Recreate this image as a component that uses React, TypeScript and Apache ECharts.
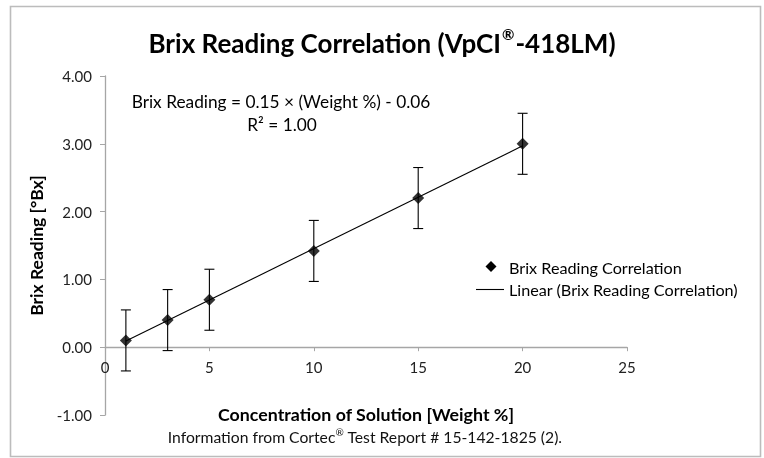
import React, { useEffect, useRef } from "react";
import * as echarts from "echarts";

const weightPct = [1, 3, 5, 10, 15, 20];
const brixValues = [0.1, 0.4, 0.7, 1.42, 2.2, 3.0];
const errorPlusMinus = [0.45, 0.45, 0.45, 0.45, 0.45, 0.45];
const trendX = [1, 20];
const trendY = [0.09, 2.97];
const xTicks = [0, 5, 10, 15, 20, 25];
const yTicks = [-1, 0, 1, 2, 3, 4];
const legendNames = ["Brix Reading Correlation", "Linear (Brix Reading Correlation)"];

const FONT = "Lato, 'Open Sans', sans-serif";

const GRID = { left: 105, right: 137, top: 76, bottom: 43 };
const H = 458;

export default function App() {
  const ref = useRef<HTMLDivElement>(null);
  useEffect(() => {
    if (!ref.current) return;
    const chart = echarts.init(ref.current, undefined, { renderer: "svg" });
    const points = weightPct.map((x, i) => [x, brixValues[i]]);
    const errData = weightPct.map((x, i) => [x, brixValues[i] - errorPlusMinus[i], brixValues[i] + errorPlusMinus[i]]);
    const trend = trendX.map((x, i) => [x, trendY[i]]);
    const yMin = yTicks[0];
    const yMax = yTicks[yTicks.length - 1];
    const plotH = H - GRID.top - GRID.bottom;
    const xOffset = -((0 - yMin) / (yMax - yMin)) * plotH;
    chart.setOption({
      animation: false,
      textStyle: { fontFamily: FONT },
      title: {
        text: "{a|Brix Reading Correlation (VpCI}{b|®}{a|-418LM)}",
        left: "center",
        top: 21,
        textStyle: {
          fontFamily: FONT,
          fontSize: 26,
          fontWeight: "bold",
          color: "#000",
          rich: {
            a: { fontFamily: FONT, fontSize: 26, fontWeight: "bold", color: "#000", lineHeight: 30, verticalAlign: "bottom" },
            b: { fontFamily: FONT, fontSize: 15, fontWeight: "bold", color: "#000", lineHeight: 30, verticalAlign: "top", padding: [0, 1, 12, 1] },
          },
        },
      },
      grid: { ...GRID, containLabel: false },
      xAxis: {
        type: "value",
        min: xTicks[0],
        max: xTicks[xTicks.length - 1],
        interval: 5,
        offset: xOffset,
        axisLine: { onZero: false, lineStyle: { color: "#a6a6a6", width: 1.3 } },
        axisTick: { show: true, length: 4, lineStyle: { color: "#a6a6a6" } },
        axisLabel: { color: "#222", fontSize: 15, fontFamily: FONT, margin: 12 },
        splitLine: { show: false },
      },
      yAxis: {
        type: "value",
        min: yMin,
        max: yMax,
        interval: 1,
        name: "Brix Reading [°Bx]",
        nameLocation: "middle",
        nameGap: 53,
        nameTextStyle: { fontFamily: FONT, fontSize: 17.5, fontWeight: "bold", color: "#000" },
        axisLine: { show: true, lineStyle: { color: "#a6a6a6", width: 1.3 } },
        axisTick: { show: true, length: 5, lineStyle: { color: "#a6a6a6" } },
        axisLabel: { color: "#222", fontSize: 15, fontFamily: FONT, margin: 13, formatter: (v: number) => v.toFixed(2) },
        splitLine: { show: false },
      },
      graphic: [
        {
          type: "rect",
          shape: { x: 10.5, y: 6.5, width: 750, height: 450 },
          style: { fill: "none", stroke: "#bcbcbc", lineWidth: 1.6 },
          silent: true,
        },
        {
          type: "text",
          x: 281,
          y: 101,
          style: { text: "Brix Reading = 0.15 × (Weight %) - 0.06", font: `17.3px ${FONT}`, fill: "#000", align: "center", verticalAlign: "middle" },
        },
        {
          type: "text",
          x: 282,
          y: 124,
          style: { text: "R² = 1.00", font: `17.3px ${FONT}`, fill: "#000", align: "center", verticalAlign: "middle" },
        },
        {
          type: "polygon",
          shape: { points: [[491, 261], [496.5, 266.5], [491, 272], [485.5, 266.5]] },
          style: { fill: "#000" },
        },
        {
          type: "line",
          shape: { x1: 476, y1: 289.5, x2: 504, y2: 289.5 },
          style: { stroke: "#000", lineWidth: 1.1 },
        },
        {
          type: "text",
          x: 509,
          y: 267,
          style: { text: legendNames[0], font: `16.2px ${FONT}`, fill: "#000", verticalAlign: "middle" },
        },
        {
          type: "text",
          x: 509,
          y: 289,
          style: { text: legendNames[1], font: `16.2px ${FONT}`, fill: "#000", verticalAlign: "middle" },
        },
        {
          type: "text",
          x: 366,
          y: 414,
          style: { text: "Concentration of Solution [Weight %]", font: `bold 17.8px ${FONT}`, fill: "#000", align: "center", verticalAlign: "middle" },
        },
        {
          type: "text",
          x: 365,
          y: 436,
          style: {
            text: "{a|Information from Cortec}{b|®}{a| Test Report # 15-142-1825 (2).}",
            fill: "#111",
            align: "center",
            verticalAlign: "middle",
            rich: {
              a: { fontFamily: FONT, fontSize: 15.7, fill: "#111", lineHeight: 18, verticalAlign: "bottom" },
              b: { fontFamily: FONT, fontSize: 10, fill: "#111", lineHeight: 18, verticalAlign: "top", padding: [0, 0, 6, 0] },
            },
          },
        },
      ],
      series: [
        {
          name: "Error bars",
          type: "custom",
          data: errData,
          z: 2,
          renderItem: (params: any, api: any) => {
            const x = api.value(0);
            const lo = api.coord([x, api.value(1)]);
            const hi = api.coord([x, api.value(2)]);
            const hw = 5;
            const st = { stroke: "#000", lineWidth: 1.1 };
            return {
              type: "group",
              children: [
                { type: "line", shape: { x1: lo[0], y1: lo[1], x2: hi[0], y2: hi[1] }, style: st },
                { type: "line", shape: { x1: lo[0] - hw, y1: lo[1], x2: lo[0] + hw, y2: lo[1] }, style: st },
                { type: "line", shape: { x1: hi[0] - hw, y1: hi[1], x2: hi[0] + hw, y2: hi[1] }, style: st },
              ],
            };
          },
        },
        {
          name: legendNames[1],
          type: "line",
          data: trend,
          symbol: "none",
          lineStyle: { color: "#000", width: 1.1 },
          itemStyle: { color: "#000" },
          z: 3,
        },
        {
          name: legendNames[0],
          type: "scatter",
          data: points,
          symbol: "diamond",
          symbolSize: 12,
          itemStyle: { color: "#000" },
          z: 4,
        },
      ],
    });
    return () => chart.dispose();
  }, []);
  return <div ref={ref} style={{ position: "fixed", left: 0, top: 0, width: 764, height: 458 }} />;
}
